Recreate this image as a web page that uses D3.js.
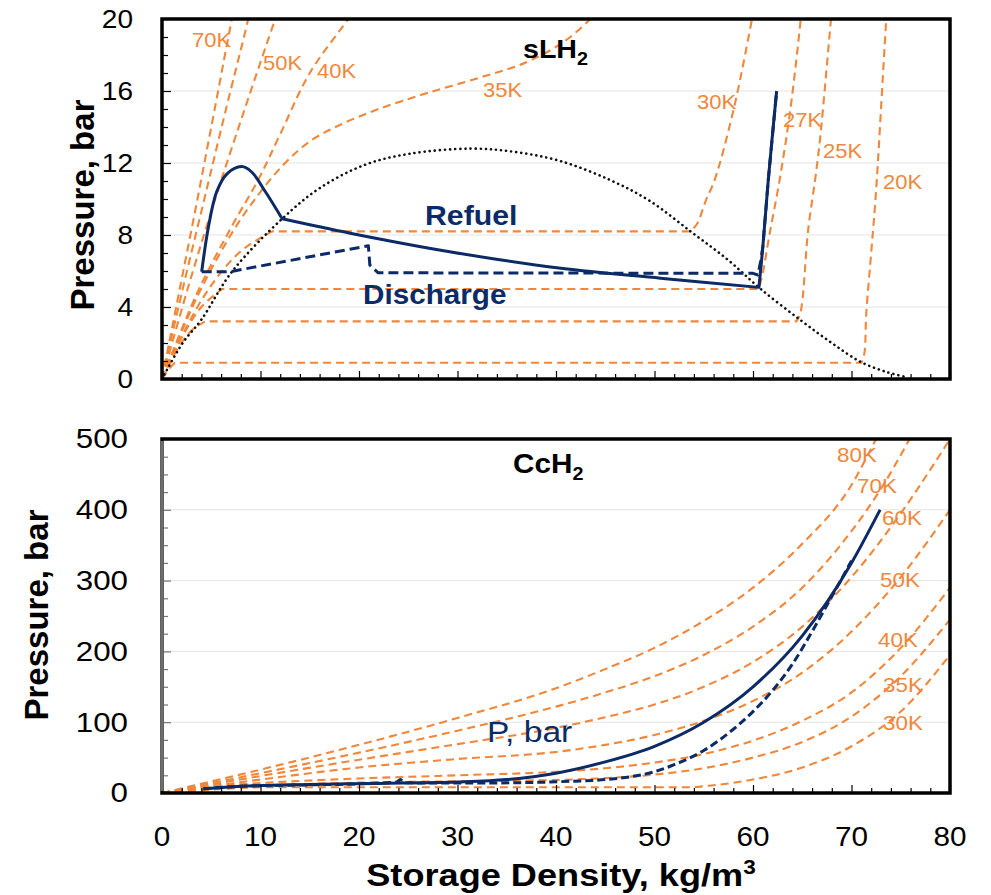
<!DOCTYPE html>
<html>
<head>
<meta charset="utf-8">
<script src="https://cdn.jsdelivr.net/npm/d3@7"></script>
<style>
  html, body { margin: 0; padding: 0; background: #fff; }
  svg { display: block; }
  text { font-family: "Liberation Sans", Arial, sans-serif; }
</style>
</head>
<body>
<svg id="chart" width="991" height="895"></svg>
<script>
// ---------------- data: sLH2 panel (density kg/m3, pressure bar) ----------------
const densityTicks = [0, 10, 20, 30, 40, 50, 60, 70, 80];
const pressureTicksTop = [0, 4, 8, 12, 16, 20];
const pressureTicksBottom = [0, 100, 200, 300, 400, 500];

// saturation dome
const satDome = [[0,0],[2.1,2.0],[4.0,3.3],[7.1,5.96],[12.2,8.9],[16,10.6],[20.6,11.9],[25,12.5],[31.4,12.8],
  [36,12.6],[40.5,12.1],[45.5,11.05],[49.5,9.9],[53.9,8.1],[57.5,6.6],[60.7,5.04],[64.8,3.28],[68,2.0],
  [70.9,0.96],[73.5,0.4],[75.6,0.1]];

// supercritical isotherms
const sl70K = [[0,0],[1.8,5],[3.6,10],[5.35,15],[7.1,20],[7.5,21]];
const sl60K = [[0,0],[2.1,5],[4.3,10],[6.5,15],[8.75,20],[9.1,21]];
const sl50K = [[0,0],[2.6,5],[5.4,10],[8.4,15],[11.5,20],[11.9,20.6]];
const sl40K = [[0,0],[3.5,4.7],[7,8.4],[9.8,11.1],[12.0,13.6],[15.0,17.0],[18.9,20],[19.6,20.6]];
const sl35K = [[0,0],[3.6,4.6],[7.2,8.2],[10,10.4],[12.5,12.0],[15,13.2],[18,14.1],[22,15.0],[27,15.9],
  [32.6,16.8],[37,17.6],[40.7,18.7],[43.5,20],[44.5,20.6]];

// subcritical isotherms: vapour branch, then liquid branch (joined by the saturation line)
const vap30K = [[0,0],[2.5,2.9],[5,5.2],[8,7.1],[11.2,8.2]];
const liq30K = [[53.6,8.2],[54.3,8.6],[55.2,9.9],[56.1,11.05],[58,14.9],[59.9,20],[60.1,20.6]];
const vap27K = [[0,0],[2,2.3],[4,4.0],[6.1,5.0]];
const liq27K = [[60.6,5.0],[61.0,5.9],[61.7,8.1],[62.7,11.05],[63.8,15],[64.8,19.75],[64.9,20.4]];
const vap25K = [[0,0],[1.5,1.6],[3,2.7],[4.4,3.2]];
const liq25K = [[64.4,3.2],[64.8,3.65],[65.6,8.3],[66.3,11.05],[66.8,13.3],[67.9,19.9],[68,20.5]];
const vap20K = [[0,0],[0.7,0.55],[1.3,0.9]];
const liq20K = [[71.0,0.9],[71.3,1.4],[71.5,3.65],[72.05,7.35],[72.5,10.5],[73.5,19.75],[73.6,20.5]];

// refuel path (three legs) and discharge path
const refuelRise = [[4.03,5.96],[4.7,8.4],[5.55,10.4],[6.6,11.4],[8.1,11.8],[9.1,11.5],[10.5,10.4],[12.2,8.9]];
const refuelFill = [[12.2,8.9],[19.1,8.1],[29.2,7.07],[40.5,6.15],[50.6,5.6],[60.6,5.09]];
const refuelTopOff = [[60.6,5.09],[61.0,7.35],[61.55,11.05],[62.4,16.0]];
const dischargeTop = [[4.03,5.96],[6.9,5.96],[20.95,7.4],[21.1,6.33],[21.95,5.9],[60.0,5.87],[60.5,5.78],
  [60.8,6.6],[61.0,7.35],[61.55,11.05],[62.4,16.0]];

// ---------------- data: CcH2 panel ----------------
const cc80K = [[0,0],[10,33],[20,68],[30,106],[40,148],[45,175],[50,205],[55,243],[60,290],[65,352],[70,435],[72.5,500],[74,540]];
const cc70K = [[0,0],[10,28],[20,57],[30,88],[40,122],[45,142],[50,165],[55,195],[60,235],[65,290],[70,370],[73,430],[75.9,500],[77,528]];
const cc60K = [[0,0],[10,24],[20,47],[30,69],[40,92],[45,107],[50,125],[55,150],[60,185],[65,235],[70,305],[75,395],[80,500]];
const cc50K = [[0,0],[10,19],[20,36],[30,48],[40,58],[45,68],[50,82],[55,102],[60,130],[65,170],[70,228],[75,305],[80,400]];
const cc40K = [[0,0],[5,9],[10,14],[20,20.5],[30,25],[40,30],[45,35],[50,43],[55,55],[60,74],[65,102],[70,142],[75,205],[80,290]];
const cc35K = [[0,0],[10.5,10.5],[20.6,14.9],[32.6,16.9],[40.7,18.7],[45,21],[50,26],[55,35],[60,50],[65,72],[70,108],[75,165],[80,245]];
const cc30K = [[0,0],[5,4.8],[11.2,8.2],[30,8.2],[53.6,8.2],[56,11],[60,19],[65,36],[70,66],[75,115],[80,195]];

const ccRefuel = [[4.2,6],[8,9.5],[15,12],[22,13.5],[30,15.5],[35,19],[40,28],[45,44],[50,66],[55,100],[60,150],
  [65,222],[70,325],[72.9,400]];
const ccDischarge = [[4.2,6],[8,9.5],[15,11.5],[20,13],[23.8,15.5],[24.2,19],[24.6,14.5],[30,14],[36,14.5],[40.4,16],
  [45,19],[48,24],[50,30],[52,40],[55,60],[58,90],[60,115],[62,145],[64,182],[66,228],[67.5,265],[70,328]];

// ---------------- drawing ----------------
const ORANGE = "#F0873A";
const NAVY = "#0B2A66";
const svg = d3.select("#chart");
svg.append("rect").attr("width", 991).attr("height", 895).attr("fill", "#fff");

const x = d3.scaleLinear().domain([0, 80]).range([162, 950]);
const yTop = d3.scaleLinear().domain([0, 20]).range([379, 19]);
const yBot = d3.scaleLinear().domain([0, 500]).range([793, 439]);

const defs = svg.append("defs");
defs.append("clipPath").attr("id", "clipTop").append("rect")
  .attr("x", x(0)).attr("y", yTop(20)).attr("width", x(80) - x(0)).attr("height", yTop(0) - yTop(20));
defs.append("clipPath").attr("id", "clipBot").append("rect")
  .attr("x", x(0)).attr("y", yBot(500)).attr("width", x(80) - x(0)).attr("height", yBot(0) - yBot(500));

const smooth = d3.curveCatmullRom.alpha(0.5);
const mono = d3.curveMonotoneX;

// join several legs into one continuous path so a dash pattern runs through
function joined(y, legs) {
  let d = "";
  legs.forEach((leg, i) => {
    const s = d3.line().x(p => x(p[0])).y(p => y(p[1])).curve(leg.curve)(leg.pts);
    d += i === 0 ? s : "L" + s.slice(1);
  });
  return d;
}

function label(g, px, py, str, o) {
  const t = g.append("text")
    .attr("transform", `translate(${px},${py}) scale(${o.sx || 1.12},1)`)
    .attr("font-size", o.size)
    .attr("font-weight", o.bold ? "bold" : "normal")
    .attr("fill", o.fill || "#000")
    .attr("text-anchor", o.anchor || "start");
  if (o.sub) {
    t.append("tspan").text(str);
    t.append("tspan").attr("font-size", o.subSize).attr("dy", o.subDy).text(o.sub);
  } else {
    t.text(str);
  }
  return t;
}

function grid(g, y, vals) {
  g.selectAll(null).data(vals).join("line")
    .attr("x1", x(0)).attr("x2", x(80)).attr("y1", d => y(d)).attr("y2", d => y(d))
    .attr("stroke", "#e4e4e4").attr("stroke-width", 1);
}

function ticks(g, y, yMinor, yMajor, yColor) {
  // x ticks pointing up into the plot
  const xMinor = d3.range(0, 81, 2);
  g.append("g").attr("transform", `translate(0,${y(0)})`)
    .call(d3.axisBottom(x).tickValues(xMinor).tickSize(-5).tickFormat(""))
    .call(a => a.select(".domain").remove())
    .call(a => a.selectAll("line").attr("stroke", "#000").attr("stroke-width", 1.2)
      .attr("y2", d => d % 10 === 0 ? -8 : -5));
  // y ticks pointing right into the plot
  g.append("g").attr("transform", `translate(${x(0)},0)`)
    .call(d3.axisLeft(y).tickValues(yMinor).tickSize(-6).tickFormat(""))
    .call(a => a.select(".domain").remove())
    .call(a => a.selectAll("line").attr("stroke", yColor).attr("stroke-width", 1.2)
      .attr("x2", d => yMajor.includes(d) ? 9 : 6));
}

function isoPath(g, y, legs, o) {
  g.append("path").attr("d", joined(y, legs))
    .attr("fill", "none").attr("stroke", o.stroke).attr("stroke-width", o.width)
    .attr("stroke-dasharray", o.dash || null).attr("stroke-linecap", o.cap || "butt")
    .attr("stroke-linejoin", "round");
}

// ======== top panel: sLH2 ========
const topG = svg.append("g");
grid(topG, yTop, [4, 8, 12, 16]);
const topPlot = topG.append("g").attr("clip-path", "url(#clipTop)");

const orangeStyle = { stroke: ORANGE, width: 2.1, dash: "8,5" };
[sl70K, sl60K, sl50K, sl40K, sl35K].forEach(s =>
  isoPath(topPlot, yTop, [{ pts: s, curve: smooth }], orangeStyle));
[[vap30K, liq30K], [vap27K, liq27K], [vap25K, liq25K], [vap20K, liq20K]].forEach(([v, l]) =>
  isoPath(topPlot, yTop, [
    { pts: v, curve: smooth },
    { pts: [v[v.length - 1], l[0]], curve: d3.curveLinear },
    { pts: l, curve: smooth }
  ], orangeStyle));

// saturation dome (dotted)
isoPath(topPlot, yTop, [{ pts: satDome, curve: smooth }],
  { stroke: "#111", width: 2.6, dash: "0.1,5", cap: "round" });

// discharge and refuel
isoPath(topPlot, yTop, [{ pts: dischargeTop, curve: d3.curveLinear }],
  { stroke: NAVY, width: 3, dash: "10,5" });
isoPath(topPlot, yTop, [
  { pts: refuelRise, curve: smooth },
  { pts: refuelFill, curve: smooth },
  { pts: refuelTopOff, curve: smooth }
], { stroke: NAVY, width: 3 });

ticks(topG, yTop, d3.range(0, 21, 1), pressureTicksTop, "#000");

// frame
topG.append("rect").attr("x", x(0)).attr("y", yTop(20)).attr("width", x(80) - x(0)).attr("height", yTop(0) - yTop(20))
  .attr("fill", "none").attr("stroke", "#000").attr("stroke-width", 3.5);

// y tick labels
topG.selectAll(null).data(pressureTicksTop).join("text")
  .attr("transform", d => `translate(133,${yTop(d)}) scale(1.12,1)`)
  .attr("text-anchor", "end").attr("dy", "0.35em").attr("font-size", 25).attr("fill", "#000")
  .text(d => d);
topG.append("text").attr("transform", "translate(94,205) rotate(-90)")
  .attr("text-anchor", "middle").attr("font-size", 33).attr("font-weight", "bold").text("Pressure, bar");

// isotherm labels
const topIsoLabels = [["70K",192,47],["50K",263,70],["40K",317,78],["35K",483,97],
  ["30K",697,109],["27K",783,127],["25K",823,158],["20K",883,189]];
topIsoLabels.forEach(([s, px, py]) => label(topG, px, py, s, { size: 20, fill: ORANGE, sx: 1.1 }));

label(topG, 523, 58, "sLH", { size: 26, bold: true, sub: "2", subSize: 18, subDy: 7, sx: 1.1 });
label(topG, 425, 225, "Refuel", { size: 28, bold: true, fill: NAVY, sx: 1.08 });
label(topG, 363, 304, "Discharge", { size: 28, bold: true, fill: NAVY, sx: 1.06 });

// ======== bottom panel: CcH2 ========
const botG = svg.append("g");
grid(botG, yBot, [100, 200, 300, 400]);
const botPlot = botG.append("g").attr("clip-path", "url(#clipBot)");

[cc80K, cc70K, cc60K, cc50K, cc40K, cc35K, cc30K].forEach(s =>
  isoPath(botPlot, yBot, [{ pts: s, curve: mono }], orangeStyle));
isoPath(botPlot, yBot, [{ pts: ccDischarge, curve: mono }], { stroke: NAVY, width: 3, dash: "8,4" });
isoPath(botPlot, yBot, [{ pts: ccRefuel, curve: mono }], { stroke: NAVY, width: 3 });

ticks(botG, yBot, d3.range(0, 501, 25), pressureTicksBottom, "#777");

botG.append("rect").attr("x", x(0)).attr("y", yBot(500)).attr("width", x(80) - x(0)).attr("height", yBot(0) - yBot(500))
  .attr("fill", "none").attr("stroke", "#000").attr("stroke-width", 3.5);
botG.append("line").attr("x1", x(0)).attr("x2", x(0)).attr("y1", yBot(500) + 2).attr("y2", yBot(0) - 2)
  .attr("stroke", "#6e6e6e").attr("stroke-width", 3.5);

botG.selectAll(null).data(pressureTicksBottom).join("text")
  .attr("transform", d => `translate(128,${yBot(d)}) scale(1.16,1)`)
  .attr("text-anchor", "end").attr("dy", "0.35em").attr("font-size", 27).attr("fill", "#000")
  .text(d => d);
botG.append("text").attr("transform", "translate(48,615) rotate(-90)")
  .attr("text-anchor", "middle").attr("font-size", 33).attr("font-weight", "bold").text("Pressure, bar");

const botIsoLabels = [["80K",837,462],["70K",857,493],["60K",882,525],["50K",880,587],
  ["40K",878,647],["35K",883,692],["30K",883,730]];
botIsoLabels.forEach(([s, px, py]) => label(botG, px, py, s, { size: 20, fill: ORANGE, sx: 1.12 }));

label(botG, 513, 473, "CcH", { size: 27, bold: true, sub: "2", subSize: 18, subDy: 7, sx: 1.1 });
label(botG, 487, 742, "P, bar", { size: 30, fill: NAVY, sx: 1.12 });

// x tick labels and axis title
botG.selectAll(null).data(densityTicks).join("text")
  .attr("transform", d => `translate(${x(d)},846) scale(1.1,1)`)
  .attr("text-anchor", "middle").attr("font-size", 27).attr("fill", "#000")
  .text(d => d);
label(botG, 561, 886, "Storage Density, kg/m", {
  size: 32, bold: true, anchor: "middle", sx: 1.13, sub: "3", subSize: 20, subDy: -12
});
</script>
</body>
</html>
